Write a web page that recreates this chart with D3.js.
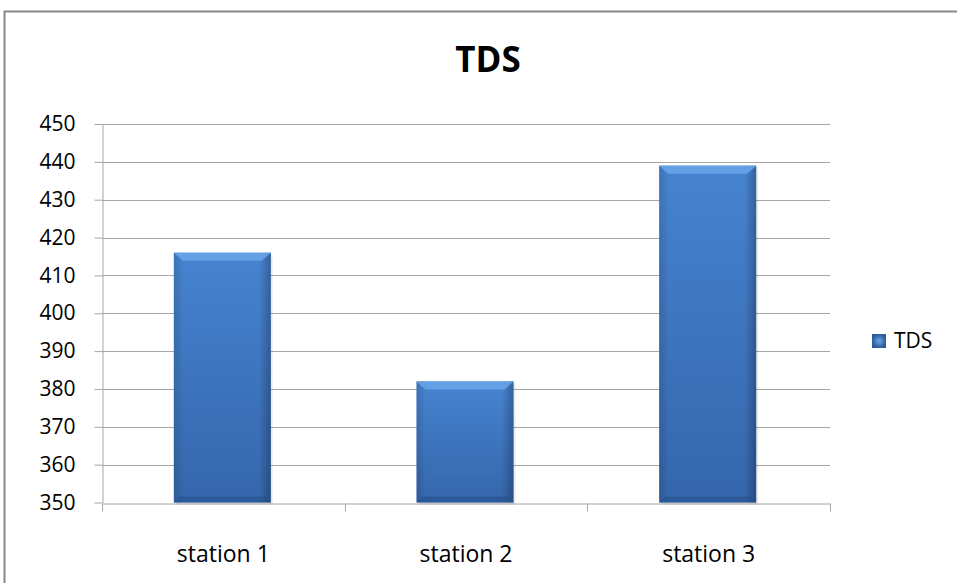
<!DOCTYPE html>
<html><head><meta charset="utf-8">
<script src="https://cdn.jsdelivr.net/npm/d3@7"></script>
<style>body{margin:0;background:#fff;}svg{display:block;}</style>
</head><body>
<svg id="c" width="957" height="583"></svg>
<script>
const categories = ["station 1", "station 2", "station 3"];
const values = [416, 382, 439];
const seriesName = "TDS";
const yTicks = [350, 360, 370, 380, 390, 400, 410, 420, 430, 440, 450];

const svg = d3.select("#c");
const font = "'Open Sans', sans-serif";
const m = {left: 102, right: 830, top: 124, bottom: 502.5};

const defs = svg.append("defs");
const g1 = defs.append("linearGradient").attr("id","barg").attr("x1",0).attr("y1",0).attr("x2",0).attr("y2",1);
g1.append("stop").attr("offset","0%").attr("stop-color","#4683d0");
g1.append("stop").attr("offset","100%").attr("stop-color","#3566ab");
const g2 = defs.append("linearGradient").attr("id","barh").attr("x1",0).attr("y1",0).attr("x2",1).attr("y2",0);
g2.append("stop").attr("offset","0%").attr("stop-color","#000").attr("stop-opacity",0.12);
g2.append("stop").attr("offset","10%").attr("stop-color","#000").attr("stop-opacity",0);
g2.append("stop").attr("offset","88%").attr("stop-color","#000").attr("stop-opacity",0);
g2.append("stop").attr("offset","100%").attr("stop-color","#000").attr("stop-opacity",0.25);

// outer border
svg.append("rect").attr("x",4.5).attr("y",11.5).attr("width",970).attr("height",600)
  .attr("fill","#fff").attr("stroke","#868686").attr("stroke-width",2);

const y = d3.scaleLinear().domain([350,450]).range([m.bottom, m.top]);
const x = d3.scaleBand().domain(categories).range([m.left, m.right]).paddingInner(0).paddingOuter(0);

// gridlines
svg.append("g").selectAll("line").data(yTicks.slice(1)).join("line")
  .attr("x1", m.left).attr("x2", m.right)
  .attr("y1", d => Math.round(y(d))+0.5).attr("y2", d => Math.round(y(d))+0.5)
  .attr("stroke","#a6a6a6").attr("stroke-width",1);

// y axis
const ya = svg.append("g").attr("transform",`translate(${m.left+0.5},0)`)
  .call(d3.axisLeft(y).tickValues(yTicks).tickSize(8).tickPadding(19).tickSizeOuter(0));
ya.select(".domain").attr("stroke","#a6a6a6");
ya.selectAll(".tick line").attr("stroke","#a6a6a6");
ya.selectAll(".tick text").attr("font-family",font).attr("font-size",21).attr("fill","#000");

// x axis
const xa = svg.append("g").attr("transform",`translate(0,${Math.round(m.bottom)+0.5})`)
  .call(d3.axisBottom(x).tickSize(0).tickPadding(42).tickSizeOuter(0));
xa.select(".domain").attr("stroke","#a6a6a6");
xa.selectAll(".tick text").attr("font-family",font).attr("font-size",23).attr("fill","#000");
const bounds = categories.map(c => x(c)).concat([m.right]);
xa.append("g").selectAll("line").data(bounds).join("line")
  .attr("x1", d => Math.round(d)+0.5).attr("x2", d => Math.round(d)+0.5)
  .attr("y1",0).attr("y2",8).attr("stroke","#a6a6a6");

// bars
const bw = x.bandwidth()*0.40;
const bx = i => x(categories[i]) + x.bandwidth()/2 - bw/2 - 1;
const bars = svg.append("g").selectAll("g").data(values).join("g");
bars.append("rect")
  .attr("x",(d,i)=> bx(i)+2).attr("y", d => y(d)+2).attr("width", bw).attr("height", d => y(350)-y(d))
  .attr("fill","#000").attr("opacity",0.08);
bars.append("rect")
  .attr("x",(d,i)=> bx(i)).attr("y", d => y(d)).attr("width", bw).attr("height", d => y(350)-y(d))
  .attr("fill","url(#barg)");
bars.append("rect")
  .attr("x",(d,i)=> bx(i)).attr("y", d => y(d)).attr("width", bw).attr("height", d => y(350)-y(d))
  .attr("fill","url(#barh)");
bars.append("path")
  .attr("d",(d,i)=>{const x0=bx(i), y0=y(d);
    return `M${x0},${y0}L${x0+bw},${y0}L${x0+bw-9},${y0+8}L${x0+9},${y0+8}Z`;})
  .attr("fill","#6aa6ea").attr("opacity",0.85);
bars.append("path")
  .attr("d",(d,i)=>{const x0=bx(i), y0=y(350);
    return `M${x0},${y0}L${x0+bw},${y0}L${x0+bw-6},${y0-6}L${x0+6},${y0-6}Z`;})
  .attr("fill","#244f8a").attr("opacity",0.55);

// title
svg.append("text").attr("x",488).attr("y",72).attr("text-anchor","middle")
  .attr("font-family",font).attr("font-weight","bold").attr("font-size",35).text("TDS");

// legend
const lg = defs.append("radialGradient").attr("id","lgg");
lg.append("stop").attr("offset","0%").attr("stop-color","#6aa6ea");
lg.append("stop").attr("offset","100%").attr("stop-color","#2c5a9a");
svg.append("rect").attr("x",872).attr("y",334).attr("width",14).attr("height",14).attr("fill","url(#lgg)");
svg.append("text").attr("x",894).attr("y",348).attr("font-family",font).attr("font-size",21).text(seriesName);
</script>
</body></html>
